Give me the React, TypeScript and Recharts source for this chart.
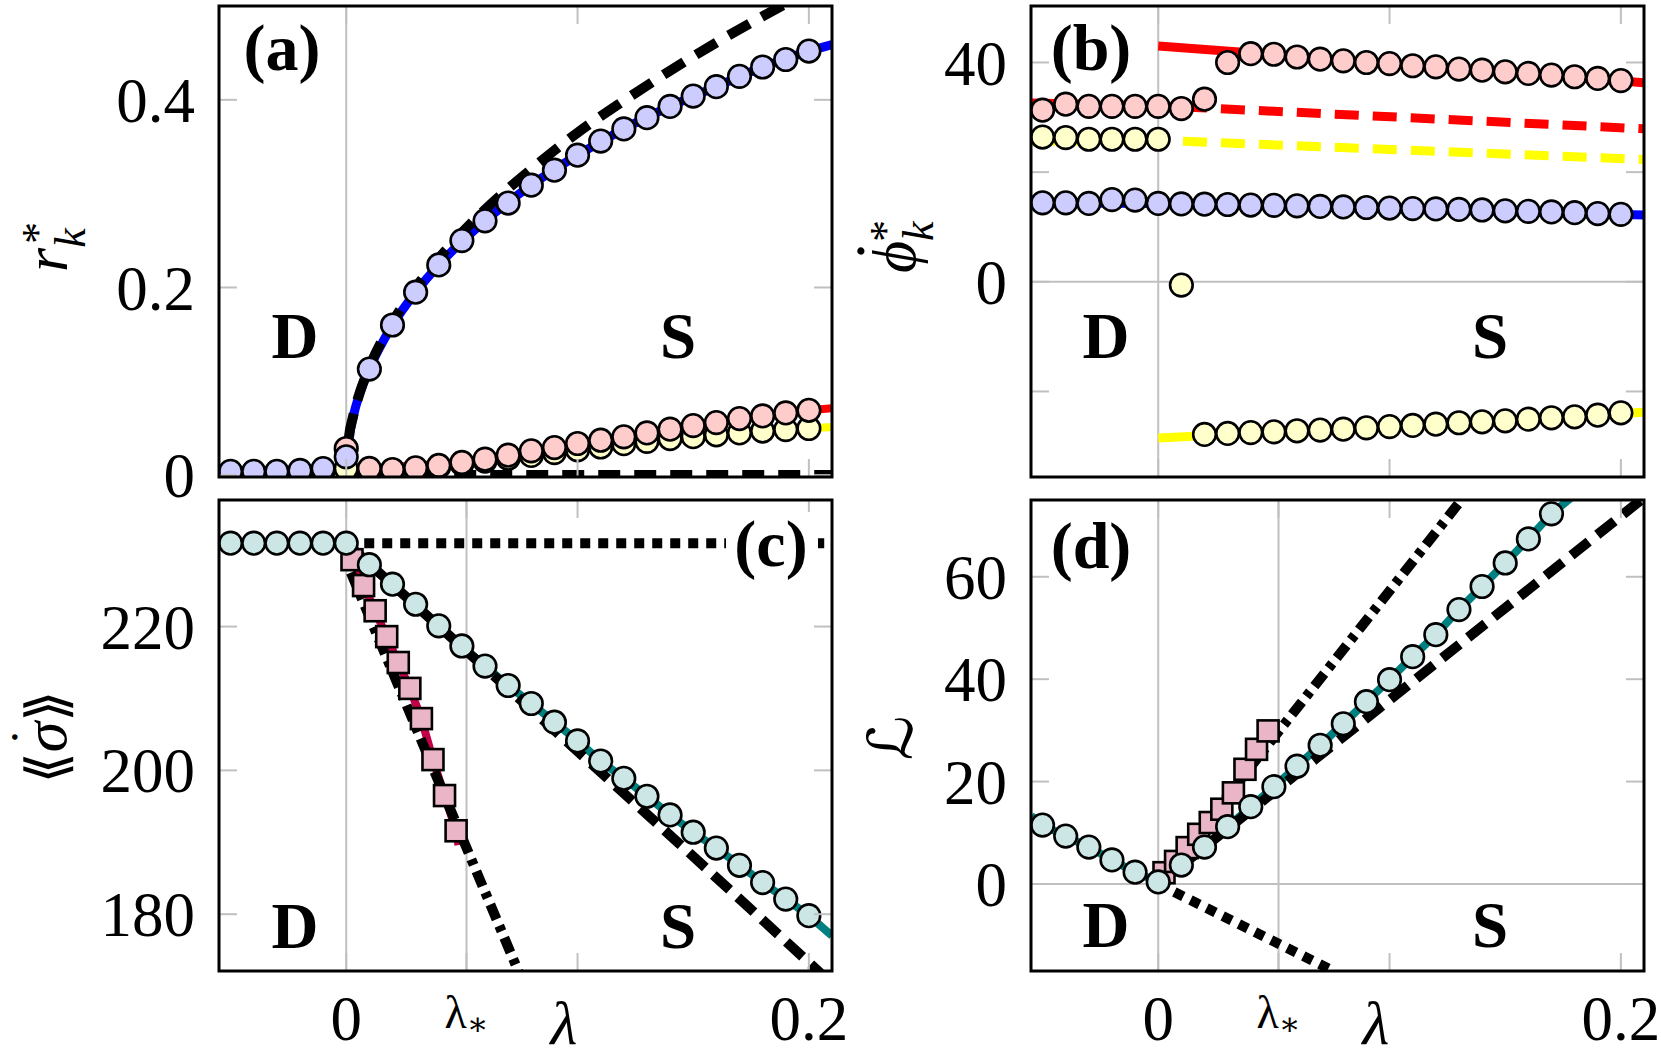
import React from 'react';
import { ComposedChart, Line, XAxis, YAxis, ReferenceLine } from 'recharts';

const W = 1661;
const H = 1056;
const SERIF = "'Liberation Serif', 'DejaVu Serif', serif";
const GRID = '#c0c0c0';

// lambda grid of the simulation points
const LAMBDA = [-0.05, -0.04, -0.03, -0.02, -0.01, 0, 0.01, 0.02, 0.03, 0.04, 0.05, 0.06, 0.07, 0.08, 0.09, 0.1, 0.11, 0.12, 0.13, 0.14, 0.15, 0.16, 0.17, 0.18, 0.19, 0.2];
const LAMBDA_SQ = [0.0025, 0.0075, 0.0125, 0.0175, 0.0225, 0.0275, 0.0325, 0.0375, 0.0425, 0.0475];
const LAMBDA_STAR = 0.052;
const X_DOMAIN = [-0.055, 0.21];
const X_TICKS_TOP = [0, 0.1, 0.2];
const X_TICKS_BOTTOM = [0, LAMBDA_STAR, 0.1, 0.2];

// (a) r*_k
const A_BLUE = [0.004, 0.004, 0.004, 0.005, 0.007, 0.0195, 0.113, 0.16, 0.195, 0.224, 0.25, 0.271, 0.29, 0.309, 0.325, 0.341, 0.356, 0.369, 0.381, 0.393, 0.404, 0.414, 0.425, 0.435, 0.443, 0.452];
const A_RED = [0.003, 0.003, 0.003, 0.004, 0.005, 0.0284, 0.0071, 0.006, 0.0078, 0.0103, 0.0135, 0.017, 0.0213, 0.0259, 0.0294, 0.0337, 0.0372, 0.0408, 0.045, 0.049, 0.0528, 0.056, 0.0603, 0.0631, 0.0663, 0.0691];
const A_YELLOW = [0.002, 0.002, 0.002, 0.003, 0.004, 0.007, 0.004, 0.004, 0.006, 0.009, 0.012, 0.015, 0.018, 0.021, 0.024, 0.027, 0.03, 0.0335, 0.036, 0.039, 0.041, 0.043, 0.045, 0.047, 0.0485, 0.0497];
const A_BLUE_LINE_X = [-0.055, 0, 0.001, 0.003, 0.006, 0.01, 0.02, 0.03, 0.04, 0.06, 0.08, 0.1, 0.12, 0.14, 0.16, 0.18, 0.2, 0.21];
const A_BLUE_LINE_Y = [0.004, 0.006, 0.035, 0.062, 0.088, 0.113, 0.16, 0.195, 0.224, 0.271, 0.309, 0.341, 0.369, 0.393, 0.414, 0.435, 0.452, 0.459];
const A_SQRT_X = [0, 0.001, 0.003, 0.006, 0.01, 0.02, 0.03, 0.04, 0.06, 0.08, 0.1, 0.12, 0.14, 0.16, 0.18, 0.195];
const A_SQRT_Y = [0, 0.036, 0.063, 0.089, 0.115, 0.163, 0.2, 0.231, 0.283, 0.326, 0.365, 0.399, 0.431, 0.461, 0.489, 0.509];
const A_SIDE_LINE_X = [0, 0.01, 0.05, 0.1, 0.15, 0.2, 0.21];
const A_RED_LINE_Y = [0.004, 0.0071, 0.0135, 0.0337, 0.0528, 0.0691, 0.0712];
const A_YELLOW_LINE_Y = [0.003, 0.004, 0.012, 0.027, 0.041, 0.0497, 0.0514];
const A_ZERO_X = [0, 0.21];
const A_ZERO_Y = [0, 0];
const A_Y_TICKS = [0, 0.2, 0.4];

// (b) phi-dot*_k
const B_RED = [31.3, 32.4, 32.0, 32.0, 32.0, 32.0, 31.6, 33.3, 40.0, 41.6, 41.5, 41.0, 40.6, 40.3, 40.0, 39.8, 39.4, 39.2, 38.8, 38.6, 38.3, 38.0, 37.7, 37.4, 37.1, 36.7];
const B_YELLOW = [26.4, 26.3, 26.0, 26.0, 26.0, 26.0, -0.6, -27.84, -27.66, -27.5, -27.36, -27.17, -27.05, -26.87, -26.63, -26.4, -26.2, -25.96, -25.71, -25.53, -25.35, -25.05, -24.8, -24.62, -24.32, -23.89];
const B_BLUE = [14.4, 14.4, 14.3, 15.0, 14.9, 14.3, 14.2, 14.15, 14.1, 14.0, 13.95, 13.85, 13.75, 13.65, 13.55, 13.45, 13.35, 13.3, 13.2, 13.1, 12.95, 12.85, 12.75, 12.6, 12.45, 12.3];
const B_RED_UP_X = [0, 0.035, 0.1, 0.15, 0.21];
const B_RED_UP_Y = [43.0, 41.9, 39.7, 38.3, 36.3];
const B_RED_DASH_X = [-0.055, 0, 0.21];
const B_RED_DASH_Y = [32.6, 32.1, 27.9];
const B_YELLOW_DASH_X = [-0.055, 0, 0.21];
const B_YELLOW_DASH_Y = [25.6, 25.8, 22.3];
const B_BLUE_LINE_X = [-0.055, 0, 0.21];
const B_BLUE_LINE_Y = [14.4, 14.3, 12.2];
const B_YELLOW_LOW_X = [0, 0.1, 0.21];
const B_YELLOW_LOW_Y = [-28.5, -26.4, -23.8];
const B_Y_TICKS = [-20, 0, 20, 40];

// (c) entropy production
const C_TEAL = [231.6, 231.6, 231.6, 231.6, 231.6, 231.6, 228.6, 225.9, 223.1, 220.1, 217.3, 214.5, 211.8, 209.3, 206.7, 204.1, 201.3, 198.9, 196.4, 193.8, 191.4, 189.2, 186.8, 184.4, 182.1, 179.8];
const C_SQ = [229.3, 225.7, 222.2, 218.6, 215.0, 211.4, 207.2, 201.5, 196.5, 191.6];
const C_TEAL_START = [-0.055, 231.6];
const C_TEAL_END = [0.21, 177.0];
const C_SQ_START = [0, 231.6];
const C_SQ_END = [0.0485, 189.6];
const C_DASH_X = [0, 0.13, 0.205];
const C_DASH_Y = [231.6, 193.9, 171.8];
const C_DASHDOT_X = [0.002, 0.0745];
const C_DASHDOT_Y = [227.5, 172.0];
const C_DOT_X = [0, 0.21];
const C_DOT_Y = [231.6, 231.6];
const C_Y_TICKS = [180, 200, 220];

// (d) L
const D_TEAL = [11.5, 9.35, 7.2, 4.7, 2.3, 0.4, 3.7, 7.2, 11.2, 15.1, 19.0, 23.0, 27.1, 31.3, 35.6, 39.9, 44.4, 48.7, 53.6, 58.1, 62.7, 67.4, 72.3];
const D_SQ = [2.2, 4.4, 7.1, 9.7, 12.0, 14.6, 17.8, 22.4, 26.3, 29.9];
const D_TEAL_START = [-0.055, 13.3];
const D_TEAL_END = [0.18, 76.0];
const D_SQ_START = [0, 0];
const D_SQ_END = [0.0485, 30.6];
const D_DASHDOT_X = [0, 0.131];
const D_DASHDOT_Y = [0, 75];
const D_DASH_X = [0, 0.2087];
const D_DASH_Y = [0, 75];
const D_DOT_X = [0, 0.0757];
const D_DOT_Y = [0, -17];
const D_Y_TICKS = [0, 20, 40, 60];

type Box = { left: number; right: number; top: number; bottom: number };
const BOX_A: Box = { left: 219, right: 832, top: 6, bottom: 477 };
const BOX_B: Box = { left: 1031, right: 1644, top: 6, bottom: 477 };
const BOX_C: Box = { left: 219, right: 832, top: 500, bottom: 971 };
const BOX_D: Box = { left: 1031, right: 1644, top: 500, bottom: 971 };

const pts = (xs: number[], ys: number[]) => ys.map((y, i) => ({ x: xs[i], y }));
const withEnds = (start: number[] | null, body: { x: number; y: number }[], end: number[] | null) => [
  ...(start ? [{ x: start[0], y: start[1] }] : []),
  ...body,
  ...(end ? [{ x: end[0], y: end[1] }] : []),
];

function curve(key: string, data: any[], color: string, width: number, dash?: string, type: any = 'linear') {
  return (
    <Line
      key={key}
      xAxisId="b"
      yAxisId="l"
      data={data}
      dataKey="y"
      type={type}
      stroke={color}
      strokeWidth={width}
      strokeDasharray={dash}
      strokeLinecap="butt"
      dot={false}
      activeDot={false}
      isAnimationActive={false}
    />
  );
}

function circles(key: string, data: any[], fill: string) {
  return (
    <Line
      key={key}
      xAxisId="b"
      yAxisId="l"
      data={data}
      dataKey="y"
      stroke="none"
      dot={{ r: 11.3, fill, stroke: '#000', strokeWidth: 2.6 }}
      activeDot={false}
      isAnimationActive={false}
    />
  );
}

const squareDot = (p: any) => (
  <rect key={`sq-${p.index}`} x={p.cx - 10.5} y={p.cy - 10.5} width={21} height={21} fill="#ebb5c8" stroke="#000" strokeWidth={2.6} />
);

function squares(key: string, data: any[]) {
  return (
    <Line key={key} xAxisId="b" yAxisId="l" data={data} dataKey="y" stroke="none" dot={squareDot} activeDot={false} isAnimationActive={false} />
  );
}

const textStyle = { fontFamily: SERIF };

const bottomTick = (labels: boolean) => (p: any) => {
  const v = p.payload.value;
  let label = null;
  if (labels && v === LAMBDA_STAR) {
    label = (
      <text x={p.x} y={p.y + 57} textAnchor="middle" style={textStyle} fontSize={46} fill="#000">
        λ<tspan fontSize={32} dy={7}>∗</tspan>
      </text>
    );
  } else if (labels && v !== 0.1) {
    label = (
      <text x={p.x} y={p.y + 69} textAnchor="middle" style={textStyle} fontSize={63} fill="#000">
        {v}
      </text>
    );
  }
  return (
    <g>
      <line x1={p.x} x2={p.x} y1={p.y} y2={p.y - 18} stroke={GRID} strokeWidth={2} />
      {label}
    </g>
  );
};

const topTick = (p: any) => <line x1={p.x} x2={p.x} y1={p.y} y2={p.y + 18} stroke={GRID} strokeWidth={2} />;
const rightTick = (p: any) => <line x1={p.x} x2={p.x - 18} y1={p.y} y2={p.y} stroke={GRID} strokeWidth={2} />;

const leftTick = (fmt: (v: number) => string) => (p: any) => (
  <g>
    <line x1={p.x} x2={p.x + 18} y1={p.y} y2={p.y} stroke={GRID} strokeWidth={2} />
    <text x={p.x - 24} y={p.y} dy="0.35em" textAnchor="end" style={textStyle} fontSize={63} fill="#000">
      {fmt(p.payload.value)}
    </text>
  </g>
);

// axis bands reserved around each plot area
const BAND_L = 120;
const BAND_B = 60;
const BAND_T = 4;
const BAND_R = 10;

interface PanelProps {
  box: Box;
  yDomain: number[];
  yTicks: number[];
  yFormat: (v: number) => string;
  xLabels: boolean;
  vLines: number[];
  hLines: number[];
  children: React.ReactNode;
}

function Panel({ box, yDomain, yTicks, yFormat, xLabels, vLines, hLines, children }: PanelProps) {
  const xTicks = xLabels ? X_TICKS_BOTTOM : X_TICKS_TOP;
  return (
    <div style={{ position: 'absolute', left: 0, top: 0 }}>
      <ComposedChart
        width={W}
        height={H}
        margin={{
          left: box.left - BAND_L,
          right: W - box.right - BAND_R,
          top: box.top - BAND_T,
          bottom: H - box.bottom - BAND_B,
        }}
      >
        <XAxis xAxisId="b" type="number" dataKey="x" domain={X_DOMAIN} allowDataOverflow ticks={xTicks} interval={0}
          height={BAND_B} axisLine={false} tickLine={false} tickSize={0} tickMargin={0} tick={bottomTick(xLabels)} />
        <XAxis xAxisId="t" orientation="top" type="number" dataKey="x" domain={X_DOMAIN} allowDataOverflow ticks={xTicks} interval={0}
          height={BAND_T} axisLine={false} tickLine={false} tickSize={0} tickMargin={0} tick={topTick} />
        <YAxis yAxisId="l" type="number" domain={yDomain} allowDataOverflow ticks={yTicks} interval={0}
          width={BAND_L} axisLine={false} tickLine={false} tickSize={0} tickMargin={0} tick={leftTick(yFormat)} />
        <YAxis yAxisId="r" orientation="right" type="number" domain={yDomain} allowDataOverflow ticks={yTicks} interval={0}
          width={BAND_R} axisLine={false} tickLine={false} tickSize={0} tickMargin={0} tick={rightTick} />
        {vLines.map((v) => (
          <ReferenceLine key={`v${v}`} xAxisId="b" yAxisId="l" x={v} stroke={GRID} strokeWidth={2} />
        ))}
        {hLines.map((v) => (
          <ReferenceLine key={`h${v}`} xAxisId="b" yAxisId="l" y={v} stroke={GRID} strokeWidth={2} />
        ))}
        {children}
      </ComposedChart>
    </div>
  );
}

function Overlay() {
  const boxes = [BOX_A, BOX_B, BOX_C, BOX_D];
  return (
    <svg width={W} height={H} style={{ position: 'absolute', left: 0, top: 0, pointerEvents: 'none', fontFamily: SERIF }}>
      {boxes.map((b, i) => (
        <rect key={i} x={b.left} y={b.top} width={b.right - b.left} height={b.bottom - b.top} fill="none" stroke="#000" strokeWidth={3} />
      ))}
      {/* panel tags */}
      <text x={282} y={70} textAnchor="middle" fontWeight="bold" fontSize={66}>(a)</text>
      <text x={1091} y={70} textAnchor="middle" fontWeight="bold" fontSize={66}>(b)</text>
      <rect x={726} y={512} width={92} height={74} fill="#fff" />
      <text x={771} y={566} textAnchor="middle" fontWeight="bold" fontSize={66}>(c)</text>
      <text x={1091} y={568} textAnchor="middle" fontWeight="bold" fontSize={66}>(d)</text>
      {/* regions */}
      {[[295, 358], [1106, 358], [295, 948], [1106, 947]].map(([x, y], i) => (
        <text key={`D${i}`} x={x} y={y} textAnchor="middle" fontWeight="bold" fontSize={65}>D</text>
      ))}
      {[[678, 358], [1490, 358], [678, 948], [1490, 947]].map(([x, y], i) => (
        <text key={`S${i}`} x={x} y={y} textAnchor="middle" fontWeight="bold" fontSize={65}>S</text>
      ))}
      {/* axis titles */}
      <text transform="rotate(-90)" x={-272} y={67} fontSize={62} fontStyle="italic">
        r<tspan fontSize={44} dy={18}>k</tspan>
        <tspan x={-244} dy={-33} fontSize={44} fontStyle="normal">*</tspan>
      </text>
      <text transform="rotate(-90)" x={-273} y={915} fontSize={62} fontStyle="italic">
        ϕ<tspan fontSize={44} dy={18}>k</tspan>
        <tspan x={-242} dy={-33} fontSize={44} fontStyle="normal">*</tspan>
      </text>
      <text transform="rotate(-90)" x={-251} y={864} textAnchor="middle" fontSize={62}>.</text>
      <text transform="rotate(-90)" x={-737} y={66} textAnchor="middle" fontSize={56}>
        <tspan style={{ fontFamily: 'DejaVu Sans' }}>⟪</tspan>
        <tspan fontStyle="italic" fontSize={62}>σ</tspan>
        <tspan style={{ fontFamily: 'DejaVu Sans' }}>⟫</tspan>
      </text>
      <text transform="rotate(-90)" x={-737} y={23} textAnchor="middle" fontSize={24}>•</text>
      <text transform="rotate(-90)" x={-738} y={912} textAnchor="middle" fontSize={62} style={{ fontFamily: "'DejaVu Serif', 'DejaVu Sans'" }}>ℒ</text>
      <text x={564} y={1044} textAnchor="middle" fontSize={62} fontStyle="italic">λ</text>
      <text x={1376} y={1044} textAnchor="middle" fontSize={62} fontStyle="italic">λ</text>
    </svg>
  );
}

export default function App() {
  const aBlue = pts(LAMBDA, A_BLUE);
  const aRed = pts(LAMBDA, A_RED);
  const aYellow = pts(LAMBDA, A_YELLOW);
  const cTeal = pts(LAMBDA, C_TEAL);
  const cSq = pts(LAMBDA_SQ, C_SQ);
  const dTeal = pts(LAMBDA, D_TEAL);
  const dSq = pts(LAMBDA_SQ, D_SQ);

  return (
    <div style={{ position: 'absolute', left: 0, top: 0, width: W, height: H, background: '#fff', overflow: 'hidden' }}>
      {/* (a) */}
      <Panel box={BOX_A} yDomain={[-0.002, 0.5]} yTicks={A_Y_TICKS} yFormat={(v) => String(v)} xLabels={false} vLines={[0]} hLines={[]}>
        {curve('aRedL', pts(A_SIDE_LINE_X, A_RED_LINE_Y), '#ff0000', 8)}
        {curve('aYelL', pts(A_SIDE_LINE_X, A_YELLOW_LINE_Y), '#ffff00', 8)}
        {curve('aBlueL', pts(A_BLUE_LINE_X, A_BLUE_LINE_Y), '#0000ff', 9, undefined, 'monotone')}
        {curve('aSqrt', pts(A_SQRT_X, A_SQRT_Y), '#000', 10, '24 14', 'monotone')}
        {curve('aZero', pts(A_ZERO_X, A_ZERO_Y), '#000', 10, '22 14')}
        {circles('aYel', aYellow, '#ffffcc')}
        {circles('aRed', aRed, '#ffcccc')}
        {circles('aBlue', aBlue, '#ccccff')}
      </Panel>
      {/* (b) */}
      <Panel box={BOX_B} yDomain={[-35.6, 50.3]} yTicks={B_Y_TICKS} yFormat={(v) => (v === 0 || v === 40 ? String(v) : '')} xLabels={false} vLines={[0]} hLines={[0]}>
        {curve('bRedUp', pts(B_RED_UP_X, B_RED_UP_Y), '#ff0000', 9)}
        {curve('bRedDash', pts(B_RED_DASH_X, B_RED_DASH_Y), '#ff0000', 9, '24 14')}
        {curve('bYelDash', pts(B_YELLOW_DASH_X, B_YELLOW_DASH_Y), '#ffff00', 9, '24 14')}
        {curve('bBlueL', pts(B_BLUE_LINE_X, B_BLUE_LINE_Y), '#0000ff', 9)}
        {curve('bYelLow', pts(B_YELLOW_LOW_X, B_YELLOW_LOW_Y), '#ffff00', 9)}
        {circles('bYel', pts(LAMBDA, B_YELLOW), '#ffffcc')}
        {circles('bRed', pts(LAMBDA, B_RED), '#ffcccc')}
        {circles('bBlue', pts(LAMBDA, B_BLUE), '#ccccff')}
      </Panel>
      {/* (c) */}
      <Panel box={BOX_C} yDomain={[172.1, 237.6]} yTicks={C_Y_TICKS} yFormat={(v) => String(v)} xLabels vLines={[0, LAMBDA_STAR]} hLines={[]}>
        {curve('cTealL', withEnds(C_TEAL_START, cTeal, C_TEAL_END), '#008080', 8)}
        {curve('cSqL', withEnds(C_SQ_START, cSq, C_SQ_END), '#c2004a', 8)}
        {curve('cDash', pts(C_DASH_X, C_DASH_Y), '#000', 10, '22 11', 'monotone')}
        {curve('cDashDot', pts(C_DASHDOT_X, C_DASHDOT_Y), '#000', 10, '16 7 6 7')}
        {curve('cDot', pts(C_DOT_X, C_DOT_Y), '#000', 10, '10 8')}
        {squares('cSq', cSq)}
        {circles('cTeal', cTeal, '#cce6e6')}
      </Panel>
      {/* (d) */}
      <Panel box={BOX_D} yDomain={[-17, 75]} yTicks={D_Y_TICKS} yFormat={(v) => String(v)} xLabels vLines={[0, LAMBDA_STAR]} hLines={[0]}>
        {curve('dTealL', withEnds(D_TEAL_START, dTeal, D_TEAL_END), '#008080', 8)}
        {curve('dSqL', withEnds(D_SQ_START, dSq, D_SQ_END), '#c2004a', 8)}
        {curve('dDash', pts(D_DASH_X, D_DASH_Y), '#000', 10, '22 11')}
        {curve('dDashDot', pts(D_DASHDOT_X, D_DASHDOT_Y), '#000', 10, '16 7 6 7')}
        {curve('dDot', pts(D_DOT_X, D_DOT_Y), '#000', 10, '10 8')}
        {squares('dSq', dSq)}
        {circles('dTeal', dTeal, '#cce6e6')}
      </Panel>
      <Overlay />
    </div>
  );
}
